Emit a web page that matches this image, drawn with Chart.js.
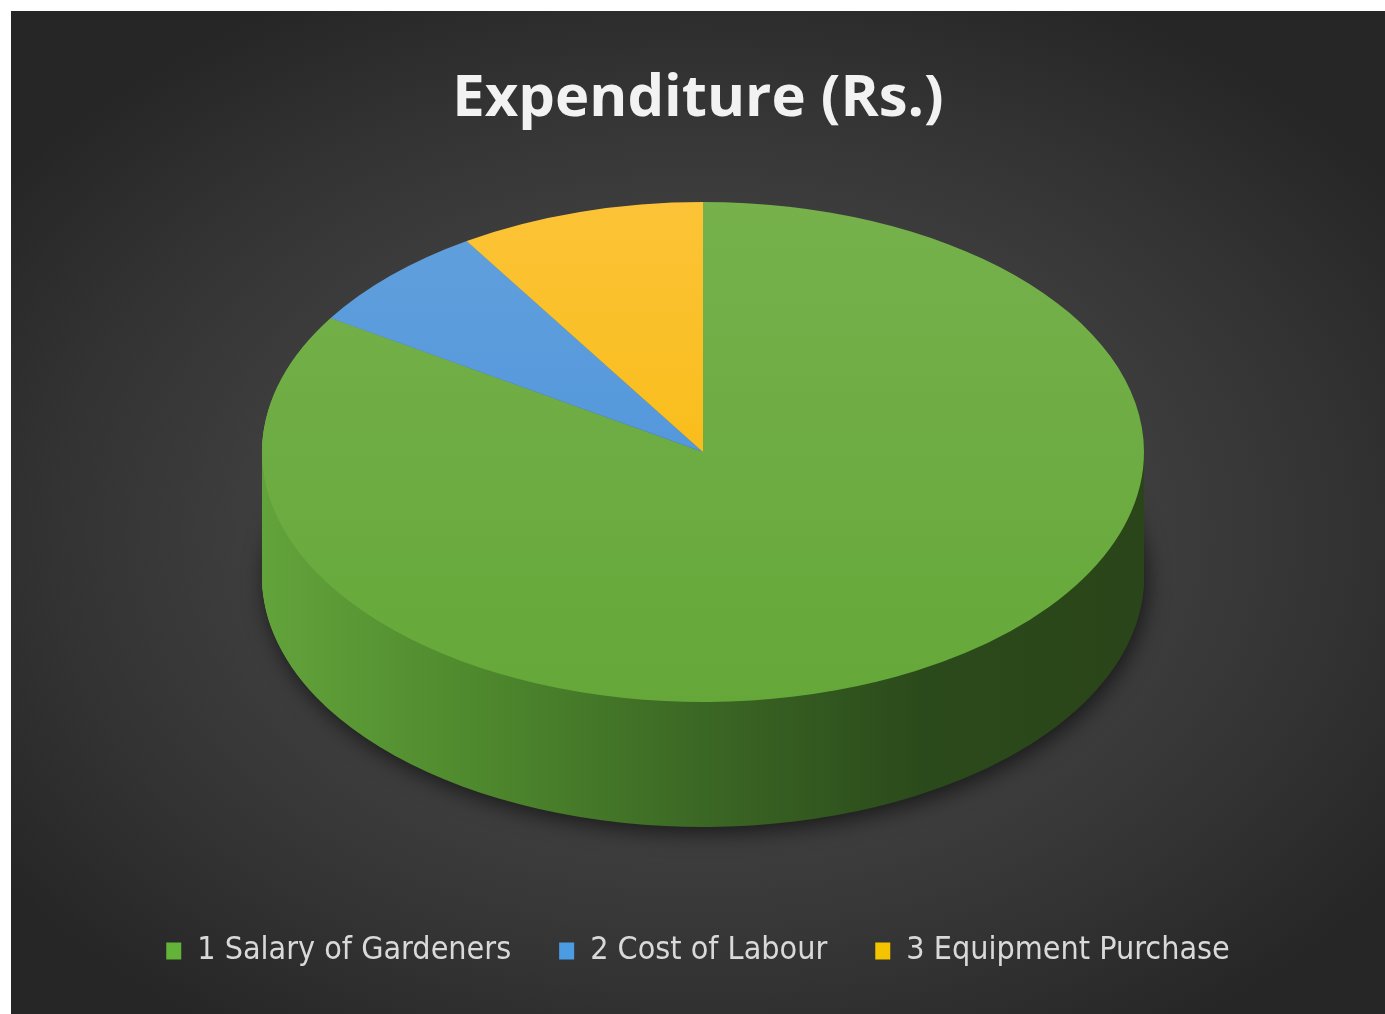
<!DOCTYPE html>
<html lang="en">
  <head>
    <meta charset="UTF-8">
    <script src="https://cdn.jsdelivr.net/npm/chart.js"></script>
    <style>
      body { margin: 0; background: #ffffff; }
      .chart-container {
        position: absolute;
        left: 11px;
        top: 11px;
        width: 1374px;
        height: 1003px;
        background: radial-gradient(ellipse 62% 60% at 50% 52%, #4e4e4e 0%, #434343 40%, #333333 75%, #262626 100%);
      }
    </style>
  </head>
  <body>
<div class="chart-container">
  <canvas id="expenditureChart"></canvas>
</div>

<script>
  const categories = ['1 Salary of Gardeners', '2 Cost of Labour', '3 Equipment Purchase'];
  const amounts = [84, 7, 9];

  // top face colours (light -> dark, top to bottom), side colours (left -> right), legend swatch
  const topColors = [['#76b14c', '#65a839'], ['#62a0dc', '#4690dc'], ['#fcc337', '#f6b800']];
  const sideColors = [['#63a33b', '#4e882d', '#3b6724', '#2b4a1b', '#2a4519'],
                      ['#4f86bd', '#3b6fa3', '#2e5a86', '#23476b', '#203f5f'],
                      ['#d9a41a', '#b98a10', '#96700b', '#785908', '#6c5007']];
  const swatchColors = ['#62b338', '#4b9ce2', '#f5c400'];

  // where the flattened pie sits on the canvas
  const TX = 692, TY = 441, RX = 441, RY = 250, DEPTH = 125;

  function topGradient(context) {
    const chart = context.chart;
    const area = chart.chartArea;
    const pair = topColors[context.dataIndex];
    if (!area) return pair[1];
    const g = chart.ctx.createLinearGradient(0, area.top, 0, area.bottom);
    g.addColorStop(0, pair[0]);
    g.addColorStop(1, pair[1]);
    return g;
  }

  // squash the pie into an ellipse and give it a thick side
  const pie3d = {
    id: 'pie3d',
    beforeDatasetsDraw(chart) {
      const ctx = chart.ctx;
      const arcs = chart.getDatasetMeta(0).data;
      if (!arcs.length) return;
      const a0 = arcs[0];
      const r = a0.outerRadius;
      const sx = RX / r, sy = RY / r;
      const toEllipse = (dy) => {
        ctx.translate(TX, TY + dy);
        ctx.scale(sx, sy);
        ctx.translate(-a0.x, -a0.y);
      };

      const sideGrads = sideColors.map(stops => {
        const g = ctx.createLinearGradient(a0.x - r, 0, a0.x + r, 0);
        stops.forEach((c, k) => g.addColorStop(k / (stops.length - 1), c));
        return g;
      });

      for (let d = DEPTH; d >= 1; d--) {
        ctx.save();
        if (d === DEPTH) {
          ctx.shadowColor = 'rgba(0, 0, 0, 0.6)';
          ctx.shadowBlur = 22;
          ctx.shadowOffsetX = 3;
          ctx.shadowOffsetY = 6;
        }
        toEllipse(d);
        arcs.forEach((arc, i) => {
          const o = arc.options;
          arc.options = Object.assign({}, o, { backgroundColor: sideGrads[i], borderWidth: 0 });
          arc.draw(ctx);
          arc.options = o;
        });
        ctx.restore();
      }

      ctx.save();
      toEllipse(0);
    },
    afterDatasetsDraw(chart) {
      if (chart.getDatasetMeta(0).data.length) chart.ctx.restore();
    }
  };

  const config = {
    type: 'pie',
    data: {
      labels: categories,
      datasets: [{
        data: amounts,
        backgroundColor: topGradient,
        borderWidth: 0,
        clip: false
      }]
    },
    options: {
      responsive: true,
      maintainAspectRatio: false,
      animation: false,
      events: [],
      layout: { padding: { top: 12, bottom: 37 } },
      plugins: {
        title: {
          display: true,
          text: 'Expenditure (Rs.)',
          color: '#f2f2f2',
          font: { family: "'Open Sans', 'Liberation Sans', sans-serif", size: 58, weight: 'bold' },
          padding: { top: 42, bottom: 20 }
        },
        legend: {
          position: 'bottom',
          labels: {
            color: '#d9d9d9',
            font: { family: "'Liberation Sans Narrow', 'DejaVu Sans Condensed', 'Roboto', sans-serif", size: 32 },
            boxWidth: 15,
            boxHeight: 17,
            padding: 48,
            generateLabels(chart) {
              return Chart.overrides.pie.plugins.legend.labels.generateLabels(chart).map((l, i) => {
                l.fillStyle = swatchColors[i];
                l.strokeStyle = swatchColors[i];
                l.lineWidth = 0;
                l.fontColor = '#d9d9d9';
                return l;
              });
            }
          }
        },
        tooltip: { enabled: false }
      }
    },
    plugins: [pie3d]
  };

  const expenditureChart = new Chart(document.getElementById('expenditureChart'), config);
</script>
  </body>
</html>
